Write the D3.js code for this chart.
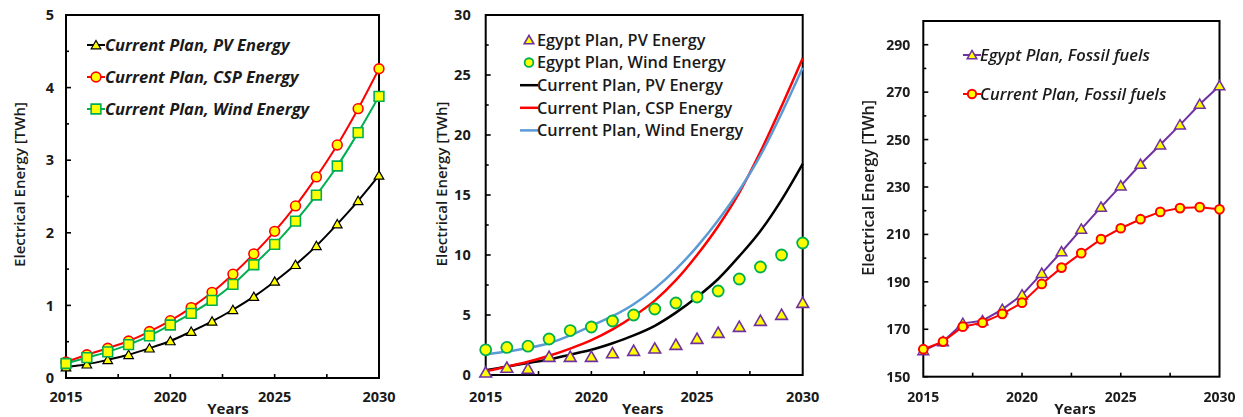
<!DOCTYPE html>
<html>
<head>
<meta charset="utf-8">
<script src="https://cdn.jsdelivr.net/npm/d3@7"></script>
<style>
  body { margin: 0; background: #fff; }
  svg { display: block; }
  text { font-family: "Open Sans", Lato, "Noto Sans", sans-serif; fill: #1a1a1a; }
</style>
</head>
<body>
<svg id="chart" width="1243" height="417"></svg>
<script>
// ---- shared categories ----
const years = [2015, 2016, 2017, 2018, 2019, 2020, 2021, 2022, 2023, 2024, 2025, 2026, 2027, 2028, 2029, 2030];
const xTickLabels = [2015, 2020, 2025, 2030];
const xMinorTicks = [2017.5, 2020, 2022.5, 2025, 2027.5];

// ---- panel (a): current plan, renewable generation [TWh] ----
const pvCurrentA   = [0.15, 0.19, 0.25, 0.32, 0.41, 0.51, 0.64, 0.78, 0.94, 1.12, 1.33, 1.56, 1.82, 2.12, 2.44, 2.79];
const cspCurrentA  = [0.22, 0.32, 0.41, 0.51, 0.64, 0.79, 0.97, 1.18, 1.43, 1.71, 2.02, 2.37, 2.77, 3.21, 3.71, 4.26];
const windCurrentA = [0.20, 0.28, 0.36, 0.46, 0.58, 0.73, 0.89, 1.07, 1.29, 1.56, 1.84, 2.16, 2.52, 2.92, 3.38, 3.88];
const yTicksA = [0, 1, 2, 3, 4, 5];

// ---- panel (b): Egypt plan vs current plan [TWh] ----
const pvEgyptB     = [0.2, 0.6, 0.5, 1.5, 1.5, 1.5, 1.8, 2.0, 2.2, 2.5, 3.0, 3.5, 4.0, 4.5, 5.0, 6.0];
const windEgyptB   = [2.1, 2.3, 2.4, 3.0, 3.7, 4.0, 4.5, 5.0, 5.5, 6.0, 6.5, 7.0, 8.0, 9.0, 10.0, 11.0];
const pvCurrentB   = [0.4, 0.7, 1.0, 1.3, 1.7, 2.1, 2.65, 3.3, 4.1, 5.2, 6.5, 8.0, 9.9, 12.0, 14.6, 17.6];
const cspCurrentB  = [0.3, 0.7, 1.1, 1.6, 2.2, 2.9, 3.8, 4.9, 6.2, 7.9, 10.0, 12.4, 15.2, 18.6, 22.4, 26.4];
const windCurrentB = [1.7, 1.95, 2.25, 2.65, 3.3, 4.1, 4.9, 5.9, 7.2, 8.8, 10.7, 12.9, 15.4, 18.3, 21.8, 25.6];
const yTicksB = [0, 5, 10, 15, 20, 25, 30];

// ---- panel (c): fossil fuel generation [TWh] ----
const fossilEgyptC   = [161.0, 164.8, 172.5, 173.6, 178.4, 184.5, 193.6, 202.7, 212.2, 221.5, 230.5, 239.6, 247.8, 256.2, 264.9, 272.7];
const fossilCurrentC = [161.6, 164.8, 171.1, 172.8, 176.5, 181.2, 189.1, 196.0, 202.1, 208.0, 212.6, 216.4, 219.5, 221.1, 221.5, 220.6];
const yTicksC = [150, 170, 190, 210, 230, 250, 270, 290];

const svg = d3.select("#chart");

const defs = svg.append("defs");
defs.append("filter").attr("id", "soft")
  .attr("x", "-5%").attr("y", "-5%").attr("width", "110%").attr("height", "110%")
  .append("feGaussianBlur").attr("stdDeviation", 0.75);

function drawFrame(g, x, y, opts) {
  const [x0, x1] = x.range();
  const [y0, y1] = y.range();
  const yDomain = y.domain();
  // inward ticks on the x axis
  g.append("g").selectAll("line").data(xMinorTicks).join("line")
    .attr("x1", d => x(d)).attr("x2", d => x(d))
    .attr("y1", y0).attr("y2", y0 - 4)
    .attr("stroke", "#000").attr("stroke-width", 1.6);
  // inward ticks on the y axis (major + half steps)
  const step = opts.yTicks[1] - opts.yTicks[0];
  const yt = [];
  for (const t of opts.yTicks) { yt.push([t, 5]); if (t + step / 2 < yDomain[1]) yt.push([t + step / 2, 3]); }
  g.append("g").selectAll("line").data(yt).join("line")
    .attr("x1", x0).attr("x2", d => x0 + d[1])
    .attr("y1", d => y(d[0])).attr("y2", d => y(d[0]))
    .attr("stroke", "#000").attr("stroke-width", 1.6);
  g.append("rect")
    .attr("x", x0).attr("y", y1).attr("width", x1 - x0).attr("height", y0 - y1)
    .attr("fill", "none").attr("stroke", "#000").attr("stroke-width", 2);
  // tick labels
  g.append("g").selectAll("text").data(opts.yTicks).join("text")
    .attr("x", x0 - opts.yLabelGap).attr("y", d => y(d)).attr("dy", "0.36em")
    .attr("text-anchor", "end").attr("font-size", opts.tickSize).attr("font-weight", 700)
    .text(d => d);
  g.append("g").selectAll("text").data(xTickLabels).join("text")
    .attr("x", d => x(d)).attr("y", opts.xLabelY)
    .attr("text-anchor", "middle").attr("font-size", opts.tickSize).attr("font-weight", 700)
    .text(d => d);
  // axis titles
  g.append("text")
    .attr("transform", `translate(${opts.yTitleX},${(y0 + y1) / 2 + opts.yTitleShift}) rotate(-90)`)
    .attr("text-anchor", "middle").attr("dy", "0.36em")
    .attr("font-size", opts.titleSize).attr("font-weight", 600)
    .text("Electrical Energy [TWh]");
  g.append("text")
    .attr("x", opts.yearsX).attr("y", opts.yearsY)
    .attr("text-anchor", "middle").attr("font-size", opts.yearsSize).attr("font-weight", 700)
    .text("Years");
}

function drawSeries(g, x, y, values, s) {
  if (s.line) {
    const line = d3.line().x((d, i) => x(years[i])).y(d => y(d)).curve(s.curve || d3.curveLinear);
    g.append("path").datum(values).attr("d", line)
      .attr("fill", "none").attr("stroke", s.line).attr("stroke-width", s.lineWidth || 2);
  }
  if (s.symbol) {
    const sym = d3.symbol().type(s.symbol).size(s.size);
    g.append("g").selectAll("path").data(values).join("path")
      .attr("transform", (d, i) => `translate(${x(years[i])},${y(d) + (s.symbol === d3.symbolTriangle ? 1 : 0)})`)
      .attr("d", sym)
      .attr("fill", s.fill).attr("stroke", s.stroke).attr("stroke-width", s.strokeWidth || 1.5);
  }
}

function drawLegend(g, items, lx, ly, dy, fontOpts) {
  items.forEach((s, i) => {
    const cy = ly + i * dy;
    if (s.line) {
      g.append("line").attr("x1", lx - 9).attr("x2", lx + 9).attr("y1", cy).attr("y2", cy)
        .attr("stroke", s.line).attr("stroke-width", s.lineWidth || 2);
    }
    if (s.symbol) {
      g.append("path").attr("transform", `translate(${lx},${cy + (s.symbol === d3.symbolTriangle ? 1 : 0)})`)
        .attr("d", d3.symbol().type(s.symbol).size(s.legendSize || s.size))
        .attr("fill", s.fill).attr("stroke", s.stroke).attr("stroke-width", s.strokeWidth || 1.5);
    }
    g.append("text").attr("x", lx + fontOpts.gap).attr("y", cy).attr("dy", "0.36em")
      .attr("font-size", fontOpts.size).attr("font-weight", fontOpts.weight)
      .attr("font-style", fontOpts.style).text(s.label);
  });
}

// ================= panel (a) =================
{
  const g = svg.append("g");
  const x = d3.scaleLinear().domain([2015, 2030]).range([66, 379]);
  const y = d3.scaleLinear().domain([0, 5]).range([378, 15]);
  const series = [
    { label: "Current Plan, PV Energy", values: pvCurrentA, line: "#000", symbol: d3.symbolTriangle, size: 40, fill: "#ffff00", stroke: "#000", strokeWidth: 1.2 },
    { label: "Current Plan, CSP Energy", values: cspCurrentA, line: "#ff0000", symbol: d3.symbolCircle, size: 75, fill: "#ffff00", stroke: "#ff0000", strokeWidth: 1.6 },
    { label: "Current Plan, Wind Energy", values: windCurrentA, line: "#00b050", symbol: d3.symbolSquare, size: 95, fill: "#ffff00", stroke: "#00b050", strokeWidth: 1.6 }
  ];
  drawFrame(g, x, y, { yTicks: yTicksA, yLabelGap: 12, tickSize: 14.5, xLabelY: 402, yTitleX: 20, yTitleShift: -12, titleSize: 15, yearsX: 228, yearsY: 414, yearsSize: 15 });
  series.forEach(s => drawSeries(g, x, y, s.values, { ...s, curve: d3.curveCatmullRom, lineWidth: 2 }));
  drawLegend(g, series, 96, 45, 32, { gap: 9, size: 16.5, weight: 700, style: "italic" });
}

// ================= panel (b) =================
{
  const g = svg.append("g");
  const x = d3.scaleLinear().domain([2015, 2030]).range([485.7, 802.7]);
  const y = d3.scaleLinear().domain([0, 30]).range([375, 15]);
  const series = [
    { label: "Egypt Plan, PV Energy", values: pvEgyptB, symbol: d3.symbolTriangle, size: 60, legendSize: 40, fill: "#ffff00", stroke: "#7030a0", strokeWidth: 1.6 },
    { label: "Egypt Plan, Wind Energy", values: windEgyptB, symbol: d3.symbolCircle, size: 95, legendSize: 60, fill: "#ffff00", stroke: "#00b050", strokeWidth: 1.8 },
    { label: "Current Plan, PV Energy", values: pvCurrentB, line: "#000", lineWidth: 2.5 },
    { label: "Current Plan, CSP Energy", values: cspCurrentB, line: "#ff0000", lineWidth: 2.5 },
    { label: "Current Plan, Wind Energy", values: windCurrentB, line: "#5b9bd5", lineWidth: 2.5 }
  ];
  drawFrame(g, x, y, { yTicks: yTicksB, yLabelGap: 15, tickSize: 14.5, xLabelY: 402, yTitleX: 441.7, yTitleShift: -11, titleSize: 15, yearsX: 642.7, yearsY: 414, yearsSize: 15 });
  // lines under the markers
  series.filter(s => s.line).forEach(s => drawSeries(g, x, y, s.values, { line: s.line, lineWidth: s.lineWidth, curve: d3.curveMonotoneX }));
  series.filter(s => s.symbol).forEach(s => drawSeries(g, x, y, s.values, s));
  drawLegend(g, series, 529, 40, 22.6, { gap: 8, size: 16.3, weight: 600, style: "normal" });
}

// ================= panel (c) =================
{
  const g = svg.append("g").attr("filter", "url(#soft)");
  const x = d3.scaleLinear().domain([2015, 2030]).range([923.3, 1219.5]);
  const y = d3.scaleLinear().domain([150, 300]).range([376.7, 21]);
  const series = [
    { label: "Egypt Plan, Fossil fuels", values: fossilEgyptC, line: "#7030a0", symbol: d3.symbolTriangle, size: 50, legendSize: 40, fill: "#ffff00", stroke: "#7030a0", strokeWidth: 1.5 },
    { label: "Current Plan, Fossil fuels", values: fossilCurrentC, line: "#ff0000", symbol: d3.symbolCircle, size: 60, legendSize: 55, fill: "#ffff00", stroke: "#ff0000", strokeWidth: 2 }
  ];
  drawFrame(g, x, y, { yTicks: yTicksC, yLabelGap: 13, tickSize: 14, xLabelY: 402, yTitleX: 868, yTitleShift: -11, titleSize: 16, yearsX: 1075, yearsY: 414, yearsSize: 15 });
  series.forEach(s => drawSeries(g, x, y, s.values, { ...s, lineWidth: 2 }));
  drawLegend(g, series, 972, 55, 39, { gap: 8, size: 16.5, weight: 600, style: "italic" });
}
</script>
</body>
</html>
